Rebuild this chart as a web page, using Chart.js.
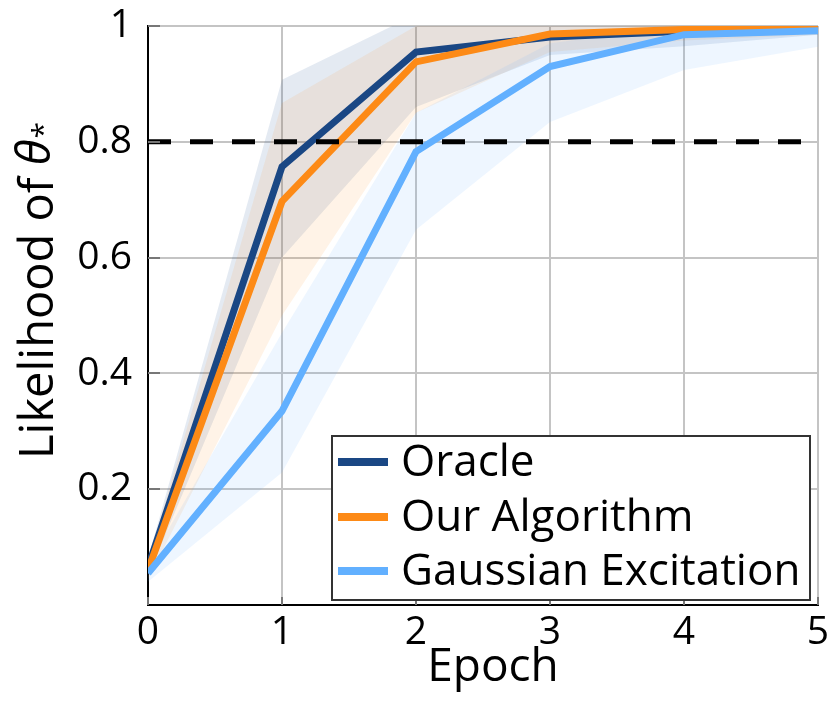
<!DOCTYPE html>
<html><head><meta charset="utf-8">
<script src="https://cdn.jsdelivr.net/npm/chart.js@4"></script>
<style>html,body{margin:0;padding:0;background:#fff}#wrap{width:833px;height:704px;position:relative}</style>
</head><body><div id="wrap"><canvas id="c"></canvas></div>
<script>
// ---- data ----
const epochs = [0, 1, 2, 3, 4, 5];
const oracleMean = [0.065, 0.757, 0.955, 0.981, 0.991, 0.995];
const oracleLow  = [0.05, 0.60, 0.86, 0.95, 0.965, 0.985];
const oracleHigh = [0.08, 0.907, 1.02, 1.0, 1.0, 1.0];
const algoMean = [0.06, 0.697, 0.938, 0.986, 0.994, 0.996];
const algoLow  = [0.045, 0.50, 0.85, 0.955, 0.975, 0.985];
const algoHigh = [0.075, 0.867, 1.0, 1.0, 1.0, 1.0];
const gaussMean = [0.055, 0.335, 0.783, 0.93, 0.985, 0.992];
const gaussLow  = [0.04, 0.229, 0.648, 0.834, 0.924, 0.964];
const gaussHigh = [0.07, 0.47, 0.85, 0.97, 1.0, 1.0];
const threshold = 0.8;
const yTicks = [0.2, 0.4, 0.6, 0.8, 1];
const xTicks = [0, 1, 2, 3, 4, 5];
const seriesNames = ['Oracle', 'Our Algorithm', 'Gaussian Excitation'];
const xTitle = 'Epoch';
const yTitleParts = ['Likelihood of ', 'θ', '*'];

const FONT = "'Open Sans', 'Noto Sans', sans-serif";
const colors = ['#1a4784', '#fd8a16', '#62b0ff'];
const bandColors = ['rgba(30,80,150,0.12)', 'rgba(253,138,22,0.10)', 'rgba(98,176,255,0.11)'];

function pts(arr) { return epochs.map((x, i) => ({ x: x, y: arr[i] })); }

const means = [oracleMean, algoMean, gaussMean];
const lows = [oracleLow, algoLow, gaussLow];
const highs = [oracleHigh, algoHigh, gaussHigh];

const datasets = [];
means.forEach((m, i) => {
  datasets.push({
    label: seriesNames[i], data: pts(m), borderColor: colors[i], borderWidth: 7,
    pointRadius: 0, fill: false, tension: 0, order: 3 - i, borderJoinStyle: 'miter'
  });
});
datasets.push({
  label: '_threshold', data: [{ x: epochs[0], y: threshold }, { x: epochs[epochs.length - 1], y: threshold }],
  borderColor: '#000', borderWidth: 5, borderDash: [23, 19], pointRadius: 0, fill: false, order: 0
});
highs.forEach((h, i) => {
  datasets.push({
    label: '_hi' + i, data: pts(h), borderWidth: 0, borderColor: 'rgba(0,0,0,0)', pointRadius: 0,
    backgroundColor: bandColors[i], fill: '+1', order: 20 - i * 2
  });
  datasets.push({
    label: '_lo' + i, data: pts(lows[i]), borderWidth: 0, borderColor: 'rgba(0,0,0,0)', pointRadius: 0,
    fill: false, order: 19 - i * 2
  });
});

const overlay = {
  id: 'overlay',
  afterDraw(chart) {
    const ctx = chart.ctx;
    const a = chart.chartArea;
    const xs = chart.scales.x, ys = chart.scales.y;
    ctx.save();
    ctx.strokeStyle = '#777';
    ctx.lineWidth = 2;
    yTicks.forEach(v => {
      const y = Math.round(ys.getPixelForValue(v));
      ctx.beginPath(); ctx.moveTo(a.left, y); ctx.lineTo(a.left + 12, y); ctx.stroke();
    });
    xTicks.forEach(v => {
      const x = Math.round(xs.getPixelForValue(v));
      ctx.beginPath(); ctx.moveTo(x, a.bottom); ctx.lineTo(x, a.bottom - 8); ctx.stroke();
    });
    // x title
    ctx.fillStyle = '#000';
    ctx.font = '46px ' + FONT;
    ctx.textAlign = 'center';
    ctx.textBaseline = 'middle';
    ctx.fillText(xTitle, 493, 668);
    // y title
    ctx.save();
    ctx.translate(40, 0);
    ctx.rotate(-Math.PI / 2);
    ctx.textBaseline = 'middle';
    ctx.textAlign = 'left';
    const f0 = '47px ' + FONT, f1 = 'italic 47px ' + FONT, f2 = '30px ' + FONT;
    ctx.font = f0; const w0 = ctx.measureText(yTitleParts[0]).width;
    ctx.font = f1; const w1 = ctx.measureText(yTitleParts[1]).width;
    ctx.font = f2; const w2 = ctx.measureText(yTitleParts[2]).width;
    const total = w0 + w1 + w2;
    const centerY = 291;
    const start = -(centerY + total / 2);
    ctx.font = f0; ctx.fillText(yTitleParts[0], start, 0);
    ctx.font = f1; ctx.fillText(yTitleParts[1], start + w0, -3);
    ctx.font = f2; ctx.fillText(yTitleParts[2], start + w0 + w1 + 1, 4);
    ctx.restore();
    // legend
    const bx = 332, by = 436, bw = 478, bh = 164;
    ctx.fillStyle = '#fff';
    ctx.fillRect(bx, by, bw, bh);
    ctx.strokeStyle = '#333';
    ctx.lineWidth = 2;
    ctx.strokeRect(bx, by, bw, bh);
    const rows = [462, 517, 571];
    seriesNames.forEach((name, i) => {
      ctx.strokeStyle = colors[i];
      ctx.lineWidth = 8;
      ctx.beginPath(); ctx.moveTo(338, rows[i]); ctx.lineTo(388, rows[i]); ctx.stroke();
      ctx.fillStyle = '#000';
      ctx.font = '44px ' + FONT;
      ctx.textAlign = 'left';
      ctx.textBaseline = 'middle';
      ctx.fillText(name, 401, rows[i] + 1);
    });
    ctx.restore();
  }
};

new Chart(document.getElementById('c'), {
  type: 'line',
  data: { datasets: datasets },
  options: {
    responsive: true, maintainAspectRatio: false, animation: false,
    layout: { padding: { left: 0, top: 26, right: 15, bottom: 0 } },
    plugins: { legend: { display: false }, tooltip: { enabled: false } },
    scales: {
      x: {
        type: 'linear', min: 0, max: 5,
        afterFit(s) { s.height = 99; s.paddingLeft = 0; s.paddingRight = 0; },
        afterBuildTicks(s) { s.ticks = xTicks.map(v => ({ value: v })); },
        grid: { color: '#c4c4c4', lineWidth: 2, drawTicks: false },
        border: { color: '#000', width: 2 },
        ticks: { color: '#000', font: { size: 39, family: FONT }, padding: 4, maxRotation: 0 }
      },
      y: {
        min: 0, max: 1,
        afterFit(s) { s.width = 148; s.paddingTop = 0; s.paddingBottom = 0; },
        afterBuildTicks(s) { s.ticks = [0].concat(yTicks).map(v => ({ value: v })); },
        grid: { color: '#c4c4c4', lineWidth: 2, drawTicks: false },
        border: { color: '#000', width: 2 },
        ticks: { color: '#000', font: { size: 39, family: FONT }, padding: 16,
          callback: v => (v === 0 ? '' : String(v)) }
      }
    }
  },
  plugins: [overlay]
});
</script></body></html>
